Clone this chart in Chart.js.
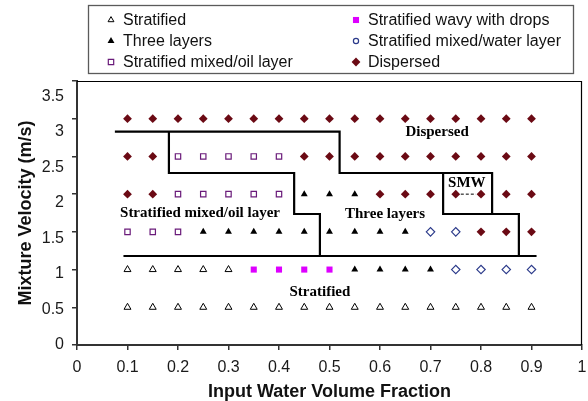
<!DOCTYPE html>
<html>
<head>
<meta charset="utf-8">
<script src="https://cdn.jsdelivr.net/npm/chart.js@4.4.1/dist/chart.umd.min.js"></script>
<style>
  html, body { margin: 0; padding: 0; background: #fff; }
  #wrap { width: 588px; height: 401px; }
</style>
</head>
<body>
<div id="wrap"><canvas id="flowmap" width="588" height="401"></canvas></div>
<script>
// Test grid: input water fraction × mixture velocity, one regime code per run.
const waterFractions = [0.1, 0.15, 0.2, 0.25, 0.3, 0.35, 0.4, 0.45, 0.5, 0.55, 0.6, 0.65, 0.7, 0.75, 0.8, 0.85, 0.9];
const velocityLevels = [3, 2.5, 2, 1.5, 1, 0.5];
// S stratified, M wavy with drops, T three layers, W mixed/water layer, O mixed/oil layer, D dispersed
const regimeRows = [
  'DDDDDDDDDDDDDDDDD',
  'DDOOOOODDDDDDDDDD',
  'DDOOOOOTTTDDDDDDD',
  'OOOTTTTTTTTTWWDDD',
  'SSSSSMMMMTTTTWWWW',
  'SSSSSSSSSSSSSSSSS'
];
const regimeCodes = ['S', 'M', 'T', 'W', 'O', 'D'];
const regimeNames = [
  'Stratified',
  'Stratified wavy with drops',
  'Three layers',
  'Stratified mixed/water layer',
  'Stratified mixed/oil layer',
  'Dispersed'
];

const xTickValues = [0, 0.1, 0.2, 0.3, 0.4, 0.5, 0.6, 0.7, 0.8, 0.9, 1];
const yTickValues = [0, 0.5, 1, 1.5, 2, 2.5, 3, 3.5];

// Regime transition lines
const dispersedBoundary = [[0.075, 2.83], [0.52, 2.83], [0.52, 2.28], [0.822, 2.28], [0.822, 1.737], [0.875, 1.737], [0.875, 1.18]];
const oilLayerBoundary = [[0.182, 2.83], [0.182, 2.28], [0.43, 2.28], [0.43, 1.737], [0.481, 1.737], [0.481, 1.18]];
const stratifiedBoundary = [[0.092, 1.18], [0.91, 1.18]];
const smwBoundary = [[0.725, 2.28], [0.725, 1.737], [0.822, 1.737]];
const smwPointer = [[0.76, 2.0], [0.79, 2.0]];

// Region names placed on the map
const regionText = ['Dispersed', 'SMW', 'Stratified mixed/oil layer', 'Three layers', 'Stratified'];
const regionAt = [[0.713, 2.82], [0.772, 2.15], [0.2436, 1.75], [0.61, 1.737], [0.481, 0.70]];

// Marker look for each regime
const regimeStyle = {
  S: { pointStyle: 'triangle', radius: 4, backgroundColor: '#ffffff', borderColor: '#000000', borderWidth: 1, legendStyle: 'triangle', legendRadius: 3.4 },
  M: { pointStyle: 'rect', radius: 4.3, backgroundColor: '#dd00ff', borderColor: '#dd00ff', borderWidth: 0, legendStyle: 'rect', legendRadius: 4.3 },
  T: { pointStyle: 'triangle', radius: 4, backgroundColor: '#000000', borderColor: '#000000', borderWidth: 0, legendStyle: 'triangle', legendRadius: 4 },
  W: { pointStyle: 'rectRot', radius: 4.2, backgroundColor: '#ffffff', borderColor: '#2b3a8a', borderWidth: 1.2, legendStyle: 'circle', legendRadius: 2.6 },
  O: { pointStyle: 'rect', radius: 3.8, backgroundColor: '#ffffff', borderColor: '#6a1b7a', borderWidth: 1.2, legendStyle: 'rect', legendRadius: 3.8 },
  D: { pointStyle: 'rectRot', radius: 4.4, backgroundColor: '#6b0a14', borderColor: '#6b0a14', borderWidth: 0, legendStyle: 'rectRot', legendRadius: 4.4 }
};

function pointsFor(code) {
  const pts = [];
  regimeRows.forEach((row, r) => {
    row.split('').forEach((c, i) => {
      if (c === code) pts.push({ x: waterFractions[i], y: velocityLevels[r] });
    });
  });
  return pts;
}

const toXY = arr => arr.map(p => ({ x: p[0], y: p[1] }));

const regimeDatasets = regimeCodes.map((code, k) => {
  const st = regimeStyle[code];
  return {
    label: regimeNames[k],
    data: pointsFor(code),
    pointStyle: st.pointStyle,
    pointRadius: st.radius,
    pointBackgroundColor: st.backgroundColor,
    pointBorderColor: st.borderColor,
    pointBorderWidth: st.borderWidth,
    showLine: false,
    order: 2,
    legendStyle: st.legendStyle,
    legendRadius: st.legendRadius
  };
});

function boundaryDataset(points, width, dash) {
  return {
    label: '',
    data: toXY(points),
    showLine: true,
    borderColor: '#000000',
    borderWidth: width,
    borderDash: dash || [],
    pointRadius: 0,
    fill: false,
    tension: 0,
    order: 1
  };
}

const boundaryDatasets = [
  boundaryDataset(dispersedBoundary, 2.2),
  boundaryDataset(oilLayerBoundary, 2.2),
  boundaryDataset(stratifiedBoundary, 2.2),
  boundaryDataset(smwBoundary, 2.2),
  boundaryDataset(smwPointer, 1, [3, 2])
];

// Frame on the top and right of the plot area, region names and legend box
const decorations = {
  id: 'decorations',
  afterDatasetsDraw(chart) {
    const { ctx, chartArea: a, scales } = chart;
    ctx.save();
    ctx.strokeStyle = '#000';
    ctx.lineWidth = 1.2;
    ctx.beginPath();
    ctx.moveTo(a.left, a.top + 0.5);
    ctx.lineTo(a.right - 0.5, a.top + 0.5);
    ctx.lineTo(a.right - 0.5, a.bottom);
    ctx.stroke();

    ctx.fillStyle = '#000';
    ctx.font = 'bold 15px "Liberation Serif", "Times New Roman", serif';
    ctx.textAlign = 'center';
    ctx.textBaseline = 'middle';
    regionText.forEach((t, i) => {
      ctx.fillText(t, scales.x.getPixelForValue(regionAt[i][0]), scales.y.getPixelForValue(regionAt[i][1]));
    });
    ctx.restore();
  },
  afterDraw(chart) {
    const { ctx } = chart;
    ctx.save();
    ctx.strokeStyle = '#5a5a5a';
    ctx.lineWidth = 1.3;
    ctx.strokeRect(88.5, 5.5, 485, 68);
    const colX = [111, 356];
    const rowY = [20, 41, 62];
    ctx.font = '16px "Liberation Sans", Arial, sans-serif';
    ctx.textBaseline = 'middle';
    ctx.textAlign = 'left';
    regimeDatasets.forEach((ds, i) => {
      const cx = colX[i % 2];
      const cy = rowY[Math.floor(i / 2)];
      ctx.fillStyle = ds.pointBackgroundColor;
      ctx.strokeStyle = ds.pointBorderColor;
      ctx.lineWidth = ds.pointBorderWidth;
      Chart.helpers.drawPoint(ctx, {
        pointStyle: ds.legendStyle,
        radius: ds.legendRadius,
        rotation: 0,
        borderWidth: ds.pointBorderWidth
      }, cx, cy);
      ctx.fillStyle = '#111';
      ctx.fillText(ds.label, cx + 12, cy + 1);
    });
    ctx.restore();
  }
};

const tickFont = { family: '"Liberation Sans", Arial, sans-serif', size: 16 };
const titleFont = { family: '"Liberation Sans", Arial, sans-serif', size: 18, weight: 'bold', lineHeight: 1.05 };
const fmt = v => String(Number(v.toFixed(2)));

new Chart(document.getElementById('flowmap'), {
  type: 'scatter',
  data: { datasets: [...boundaryDatasets, ...regimeDatasets] },
  plugins: [decorations],
  options: {
    responsive: false,
    devicePixelRatio: 1,
    animation: false,
    layout: { padding: { top: 81, right: 6, left: 0, bottom: 0 } },
    plugins: {
      legend: { display: false },
      tooltip: { enabled: false }
    },
    scales: {
      x: {
        type: 'linear',
        position: 'bottom',
        min: 0,
        max: 1,
        afterBuildTicks: s => { s.ticks = xTickValues.map(v => ({ value: v })); },
        afterFit: s => { s.height = 56; s.paddingLeft = 0; s.paddingRight = 0; },
        ticks: { font: tickFont, color: '#1a1a1a', padding: 8, maxRotation: 0, autoSkip: false, callback: fmt },
        grid: { drawOnChartArea: false, drawTicks: true, tickLength: 5, color: '#333', lineWidth: 1.5 },
        border: { color: '#333', width: 2 },
        title: { display: true, text: 'Input Water Volume Fraction', font: titleFont, color: '#111', padding: { top: 0, bottom: 0 } }
      },
      y: {
        type: 'linear',
        position: 'left',
        weight: 0,
        min: 0,
        max: 3.5,
        afterBuildTicks: s => { s.ticks = yTickValues.map(v => ({ value: v })); },
        afterFit: s => { s.width = 5; },
        ticks: { display: false },
        grid: { drawOnChartArea: false, drawTicks: true, tickLength: 5, color: '#333', lineWidth: 1.5 },
        border: { color: '#333', width: 2 }
      },
      yLabels: {
        type: 'linear',
        position: 'left',
        weight: 1,
        min: 0,
        max: 3.713,
        afterBuildTicks: s => { s.ticks = yTickValues.map(v => ({ value: v })); },
        afterFit: s => { s.width = 72; },
        ticks: { font: tickFont, color: '#1a1a1a', padding: 8, callback: fmt },
        grid: { display: false, drawTicks: false },
        border: { display: false },
        title: { display: true, text: 'Mixture Velocity (m/s)', font: { family: '"Liberation Sans", Arial, sans-serif', size: 18, weight: 'bold' }, color: '#111', padding: { top: 15, bottom: 0 } }
      }
    }
  }
});
</script>
</body>
</html>
